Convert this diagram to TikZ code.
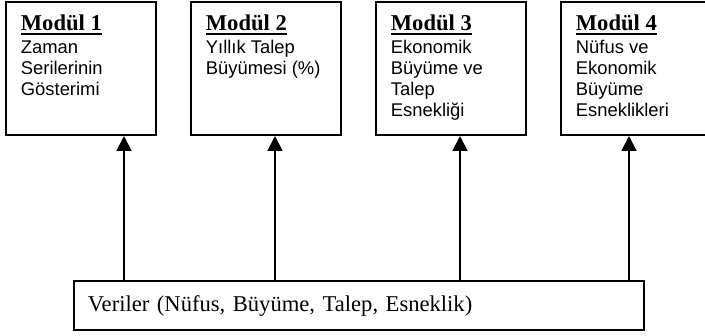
\documentclass[tikz,border=0pt]{standalone}
\usepackage{fontspec}
\setmainfont{Liberation Serif}
\setsansfont{Liberation Sans}
\usepackage{tikz}
\usetikzlibrary{arrows.meta, positioning}

% underlined bold heading of a module box
\newcommand{\baslik}[1]{\setbox0=\hbox{\rmfamily\bfseries\fontsize{22.6}{22.6}\selectfont #1}%
  \leavevmode\rlap{\raisebox{-4.6pt}{\rule{\wd0}{1.8pt}}}\box0}
% text of a module box, top aligned
\newcommand{\modmetin}[2]{\parbox[t][133.2pt][t]{120.2pt}{\vspace*{13pt}\baslik{#1}\par\vspace{2pt}#2}}

\begin{document}
\begin{tikzpicture}[
    x=1pt, y=-1pt,
    modul/.style={draw, line width=1.8pt, rectangle, anchor=north west, inner xsep=15pt, inner ysep=0pt,
        font=\sffamily\fontsize{18.4}{21}\selectfont},
    veri/.style={draw, line width=1.8pt, rectangle, anchor=north west, minimum width=570.2pt, minimum height=49.2pt,
        text width=542.2pt, inner xsep=14pt, align=left, font=\rmfamily\fontsize{22.6}{24}\selectfont},
    ok/.style={line width=1.8pt, -{Triangle[length=15pt, width=15pt]}}
]
\useasboundingbox (0,0) rectangle (705,336);

% Modules
\node[modul] (m1) at (5,1) {\modmetin{Modül 1}{Zaman\\Serilerinin\\Gösterimi}};
\node[modul, right=33pt of m1] (m2) {\modmetin{Modül 2}{Yıllık Talep\\Büyümesi (\%)}};
\node[modul, right=33pt of m2] (m3) {\modmetin{Modül 3}{Ekonomik\\Büyüme ve\\Talep\\Esnekliği}};
\node[modul, right=33pt of m3] (m4) {\modmetin{Modül 4}{Nüfus ve\\Ekonomik\\Büyüme\\Esneklikleri}};

% Data box
\node[veri] (veri) at (73,280) {Veriler (Nüfus, Büyüme, Talep, Esneklik)};

% Arrows from data to modules
\draw[ok] ([xshift=119pt]m1.south west |- veri.north) -- ([xshift=119pt]m1.south west);
\draw[ok] ([xshift=85pt]m2.south west |- veri.north) -- ([xshift=85pt]m2.south west);
\draw[ok] ([xshift=85pt]m3.south west |- veri.north) -- ([xshift=85pt]m3.south west);
\draw[ok] ([xshift=69pt]m4.south west |- veri.north) -- ([xshift=69pt]m4.south west);

\end{tikzpicture}
\end{document}
